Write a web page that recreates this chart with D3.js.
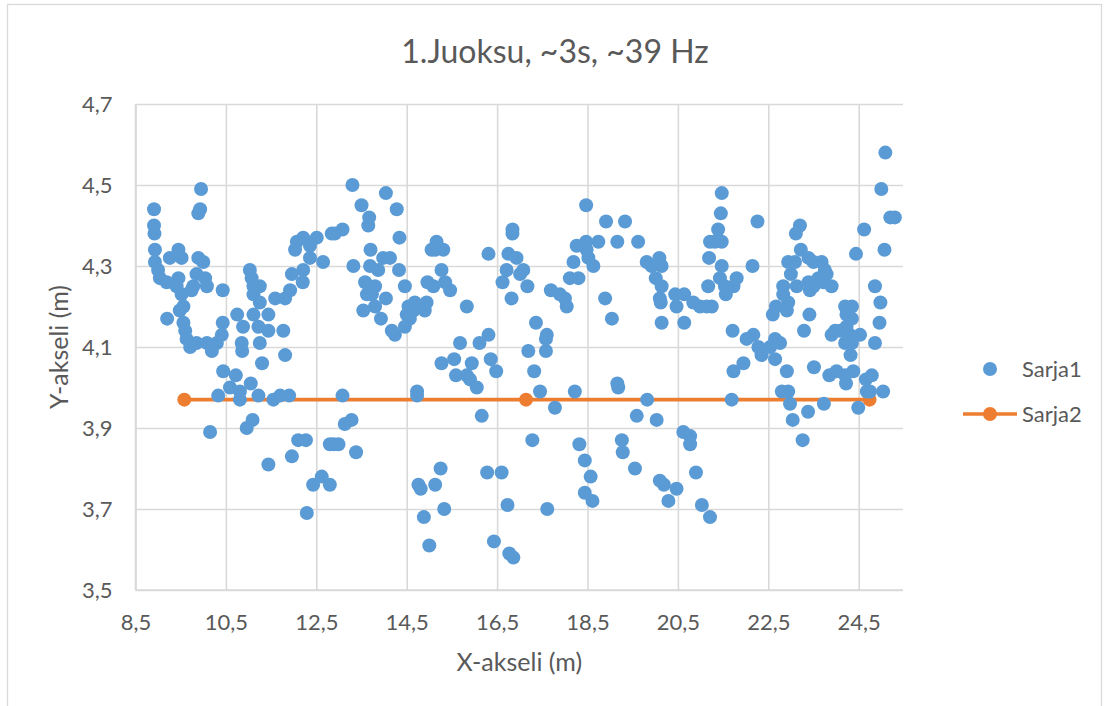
<!DOCTYPE html>
<html>
<head>
<meta charset="utf-8">
<script src="https://cdn.jsdelivr.net/npm/d3@7"></script>
<style>
  html, body { margin: 0; padding: 0; background: #fff; }
  svg { display: block; }
  text { font-family: Lato, "Open Sans", sans-serif; fill: #595959; }
</style>
</head>
<body>
<svg id="chart" width="1109" height="706"></svg>
<script>
// Run 1 position samples (m)
const sarja1 = [
  [9.95,4.49],[9.93,4.44],[9.89,4.43],[8.91,4.44],[8.91,4.40],[8.92,4.38],[8.93,4.34],[8.93,4.31],[9.45,4.34],[9.26,4.32],
  [9.52,4.32],[9.89,4.32],[10.0,4.31],[9.0,4.29],[9.04,4.27],[9.19,4.26],[9.45,4.27],[9.85,4.28],[10.04,4.27],[10.08,4.25],
  [9.78,4.25],[9.74,4.24],[9.41,4.25],[9.52,4.23],[9.56,4.20],[9.48,4.19],[9.2,4.17],[9.56,4.16],[9.6,4.14],[9.63,4.12],
  [9.85,4.11],[10.08,4.11],[10.3,4.11],[10.41,4.13],[10.43,4.16],[10.43,4.24],[10.75,4.18],[10.88,4.15],[10.85,4.11],[11.03,4.29],
  [11.07,4.27],[11.11,4.25],[11.25,4.25],[11.11,4.23],[11.25,4.21],[11.11,4.18],[11.44,4.18],[11.22,4.15],[11.44,4.14],[11.25,4.11],
  [11.77,4.14],[11.59,4.22],[11.81,4.22],[11.92,4.24],[11.96,4.28],[12.2,4.26],[12.21,4.29],[12.36,4.32],[12.03,4.34],[12.07,4.36],
  [12.21,4.37],[12.51,4.37],[12.36,4.35],[12.65,4.31],[12.84,4.38],
  [13.3,4.50],[14.04,4.48],[13.5,4.45],[14.28,4.44],[13.67,4.42],[13.65,4.40],[12.91,4.38],[13.08,4.39],[14.34,4.37],[13.7,4.34],
  [13.32,4.30],[13.69,4.30],[13.87,4.29],[13.98,4.32],[14.13,4.32],[14.33,4.29],[13.58,4.26],[13.8,4.25],[13.62,4.23],[13.73,4.23],
  [14.04,4.22],[13.54,4.19],[13.8,4.20],[13.93,4.17],[14.46,4.25],[14.96,4.26],[15.09,4.25],[15.16,4.36],[15.13,4.34],[15.31,4.34],
  [15.05,4.34],[15.27,4.29],[15.35,4.26],[15.46,4.24],[14.54,4.20],[14.68,4.21],[14.94,4.21],[14.5,4.18],[14.65,4.19],[14.79,4.20],
  [14.9,4.19],[14.46,4.15],[14.57,4.17],[14.17,4.14],[14.24,4.13],[15.83,4.20],[16.31,4.33],[16.31,4.13],[15.68,4.11],[16.11,4.11],
  [16.84,4.39],[16.84,4.38],[16.75,4.33],[16.93,4.32],[16.71,4.29],[16.62,4.26],[16.82,4.22],[17.01,4.28],
  [17.08,4.29],[17.17,4.25],[18.47,4.45],[18.91,4.41],[19.33,4.41],[18.26,4.35],[18.47,4.36],[18.74,4.36],[19.16,4.36],[19.62,4.36],
  [18.48,4.34],[18.19,4.31],[18.52,4.32],[18.63,4.30],[18.11,4.27],[18.3,4.27],[17.69,4.24],[17.89,4.23],[18.0,4.22],[18.04,4.20],
  [18.89,4.22],[19.04,4.17],[17.36,4.16],[17.6,4.13],[19.81,4.31],[19.92,4.30],[20.09,4.32],[20.14,4.30],[20.01,4.27],[20.14,4.25],
  [20.1,4.22],[20.12,4.21],[20.44,4.23],[20.64,4.23],[20.47,4.20],[20.84,4.21],[20.99,4.20],[21.14,4.20],[20.14,4.16],[20.64,4.16],
  [21.21,4.36],[21.19,4.32],[21.17,4.25],
  [21.47,4.48],[21.45,4.43],[21.39,4.39],[21.32,4.36],[21.47,4.36],[21.47,4.30],[22.26,4.41],[22.15,4.30],[21.43,4.27],[21.54,4.25],
  [21.8,4.27],[21.73,4.25],[21.56,4.23],[21.25,4.20],[21.71,4.14],[22.02,4.12],[22.17,4.13],[22.28,4.10],[22.65,4.12],[22.76,4.11],
  [22.54,4.10],[22.6,4.18],[22.67,4.20],[22.83,4.23],[22.83,4.25],[22.94,4.21],[22.91,4.19],[22.94,4.31],[23.09,4.31],[23.0,4.28],
  [23.13,4.25],[23.2,4.40],[23.11,4.38],[23.22,4.34],[23.39,4.32],[23.5,4.31],[23.68,4.31],[23.75,4.29],[23.79,4.28],[23.39,4.26],
  [23.5,4.25],[23.42,4.24],[23.61,4.27],[23.72,4.26],[23.9,4.25],[23.41,4.18],[23.29,4.14],[23.98,4.14],[23.9,4.13],[24.09,4.14],
  [24.2,4.20],[24.35,4.20],[24.23,4.18],[24.35,4.17],[24.23,4.15],[24.31,4.13],[24.53,4.13],[24.2,4.11],[24.35,4.11],[24.44,4.33],
  [24.62,4.39],[25.09,4.58],[25.0,4.49],[25.2,4.42],[25.3,4.42],[25.07,4.34],[24.86,4.25],[24.98,4.21],[24.96,4.16],[24.86,4.11],
  [9.71,4.10],[10.19,4.09],[10.86,4.09],[11.81,4.08],[11.3,4.06],[10.44,4.04],[10.72,4.03],[10.59,4.00],[11.05,4.01],[10.33,3.98],
  [10.81,3.99],[10.81,3.97],[11.22,3.98],[11.55,3.97],[11.7,3.98],[11.9,3.98],[11.09,3.92],[10.96,3.90],[10.15,3.89],[12.1,3.87],
  [12.27,3.87],[12.8,3.86],[11.96,3.83],[11.44,3.81],[12.62,3.78],[12.43,3.76],[12.8,3.76],[12.29,3.69],
  [15.27,4.06],[15.55,4.07],[15.94,4.06],[16.36,4.07],[16.48,4.04],[15.59,4.03],[15.83,4.03],[15.9,4.02],[16.05,4.00],[13.08,3.98],
  [14.73,3.99],[14.73,3.98],[16.16,3.93],[13.28,3.92],[13.13,3.91],[12.88,3.86],[12.99,3.86],[13.38,3.84],[14.76,3.76],[14.81,3.75],
  [15.13,3.76],[15.25,3.80],[15.33,3.70],[14.88,3.68],[15.0,3.61],[16.28,3.79],[16.6,3.79],[16.73,3.71],[16.43,3.62],[16.77,3.59],
  [16.86,3.58],
  [17.19,4.09],[17.58,4.09],[17.58,4.12],[17.32,4.04],[17.45,3.99],[17.78,3.95],[18.22,3.99],[19.16,4.01],[19.18,4.00],[19.82,3.97],
  [19.59,3.93],[20.03,3.92],[17.28,3.87],[18.32,3.86],[18.44,3.82],[18.57,3.78],[18.44,3.74],[18.61,3.72],[19.26,3.87],[19.28,3.84],
  [19.55,3.80],[20.62,3.89],[20.77,3.88],[20.77,3.86],[20.9,3.79],[20.1,3.77],[20.19,3.76],[20.47,3.75],[20.29,3.72],[21.03,3.71],
  [21.21,3.68],[17.61,3.70],
  [22.35,4.08],[22.65,4.07],[21.73,4.04],[21.95,4.06],[22.91,4.04],[21.69,3.97],[22.8,3.99],[22.94,3.99],[22.98,3.96],[23.04,3.92],
  [23.51,4.05],[23.85,4.03],[24.01,4.04],[24.2,4.03],[24.38,4.04],[24.22,4.01],[23.38,3.94],[23.73,3.96],[23.26,3.87],[24.32,4.08],
  [24.66,4.02],[24.79,4.03],[24.68,3.99],[24.75,3.99],[25.04,3.99],[24.49,3.95]
];

// Reference line (m)
const sarja2X = [9.58, 17.14, 24.74];
const sarja2Y = [3.97, 3.97, 3.97];

const xTicks = [8.5, 10.5, 12.5, 14.5, 16.5, 18.5, 20.5, 22.5, 24.5];
const yTicks = [3.5, 3.7, 3.9, 4.1, 4.3, 4.5, 4.7];
const seriesNames = ["Sarja1", "Sarja2"];
const titleText = "1.Juoksu, ~3s, ~39 Hz";
const xTitle = "X-akseli (m)";
const yTitle = "Y-akseli (m)";

const blue = "#5B9BD5";
const orange = "#ED7D31";
const grid = "#D9D9D9";

const svg = d3.select("#chart");
const plot = { left: 135.5, right: 903, top: 104, bottom: 590 };

const x = d3.scaleLinear().domain([8.5, 25.48]).range([plot.left, plot.right]);
const y = d3.scaleLinear().domain([3.5, 4.7]).range([plot.bottom, plot.top]);
const fmt = v => d3.format(".1f")(v).replace(".", ",");

// chart frame
svg.append("rect")
  .attr("x", 7.5).attr("y", 4.5).attr("width", 1094).attr("height", 720)
  .attr("fill", "#fff").attr("stroke", grid).attr("stroke-width", 1.3);

// gridlines and tick labels
const gx = svg.append("g").attr("transform", `translate(0,${plot.bottom})`)
  .call(d3.axisBottom(x).tickValues(xTicks).tickSize(-(plot.bottom - plot.top)).tickFormat(fmt).tickPadding(24));
gx.select(".domain").attr("stroke", grid).attr("stroke-width", 1.6)
  .attr("d", `M${plot.left},0H${plot.right}`);
gx.selectAll(".tick line").attr("stroke", grid).attr("stroke-width", 1.6);
gx.selectAll(".tick text").attr("font-size", 22).attr("fill", "#595959")
  .style("font-family", "Lato, sans-serif");

const gy = svg.append("g").attr("transform", `translate(${plot.left},0)`)
  .call(d3.axisLeft(y).tickValues(yTicks).tickSize(-(plot.right - plot.left)).tickFormat(fmt).tickPadding(23));
gy.select(".domain").attr("stroke", grid).attr("stroke-width", 1.6)
  .attr("d", `M0,${plot.top}V${plot.bottom}`);
gy.selectAll(".tick line").attr("stroke", grid).attr("stroke-width", 1.6);
gy.selectAll(".tick text").attr("font-size", 22).attr("fill", "#595959")
  .style("font-family", "Lato, sans-serif");

// Sarja2 line with markers
const s2 = sarja2X.map((v, i) => [v, sarja2Y[i]]);
svg.append("path")
  .datum(s2)
  .attr("d", d3.line().x(d => x(d[0])).y(d => y(d[1])))
  .attr("fill", "none").attr("stroke", orange).attr("stroke-width", 3.6)
  .attr("stroke-linecap", "round");
svg.append("g").selectAll("circle").data(s2).join("circle")
  .attr("cx", d => x(d[0])).attr("cy", d => y(d[1])).attr("r", 7)
  .attr("fill", orange);

// Sarja1 scatter
svg.append("g").selectAll("circle").data(sarja1).join("circle")
  .attr("cx", d => x(d[0])).attr("cy", d => y(d[1])).attr("r", 7)
  .attr("fill", blue);

// titles
svg.append("text").attr("x", 555).attr("y", 63).attr("text-anchor", "middle")
  .attr("font-size", 32).text(titleText);
svg.append("text").attr("x", (plot.left + plot.right) / 2).attr("y", 671)
  .attr("text-anchor", "middle").attr("font-size", 25).text(xTitle);
svg.append("text")
  .attr("transform", `translate(68,${(plot.top + plot.bottom) / 2}) rotate(-90)`)
  .attr("text-anchor", "middle").attr("font-size", 25).text(yTitle);

// legend
const lg = svg.append("g");
lg.append("circle").attr("cx", 990).attr("cy", 369).attr("r", 7).attr("fill", blue);
lg.append("text").attr("x", 1022).attr("y", 377).attr("font-size", 22).text(seriesNames[0]);
lg.append("line").attr("x1", 963).attr("x2", 1017).attr("y1", 414).attr("y2", 414)
  .attr("stroke", orange).attr("stroke-width", 3.6);
lg.append("circle").attr("cx", 990).attr("cy", 414).attr("r", 7).attr("fill", orange);
lg.append("text").attr("x", 1022).attr("y", 422).attr("font-size", 22).text(seriesNames[1]);
</script>
</body>
</html>
